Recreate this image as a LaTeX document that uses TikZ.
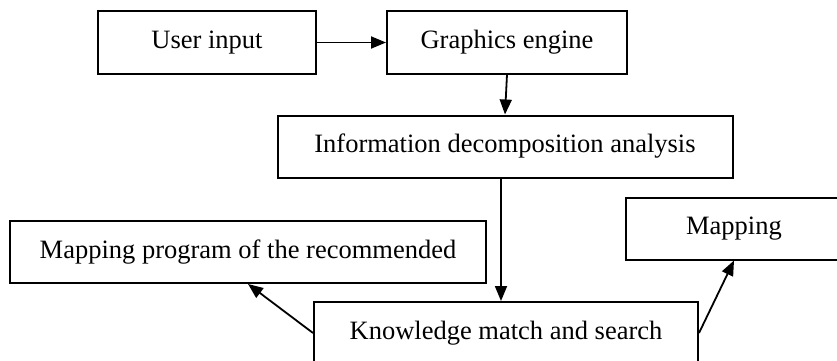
\documentclass[tikz,border=0pt]{standalone}
\usepackage{fontspec}
\setmainfont{Liberation Serif}
\usetikzlibrary{arrows.meta}

\begin{document}
\begin{tikzpicture}[
  x=1pt,y=-1pt,
  box/.style={rectangle,draw,line width=2pt,inner sep=0pt,minimum height=62pt,font=\fontsize{26.5}{30}\selectfont},
  arrow/.style={-{Triangle[length=15pt,width=12pt]},line width=1.8pt}
]
  \clip (0,0) rectangle (837,361);

  % Boxes
  \node[box,minimum width=218pt] (user) at (207,42.5) {User input};
  \node[box,minimum width=240pt] (engine) at (507,42.5) {Graphics engine};
  \node[box,minimum width=455pt] (info) at (505,146.5) {Information decomposition analysis};
  \node[box,minimum width=476pt] (prog) at (248,252) {Mapping program of the recommended};
  \node[box,minimum width=216pt] (mapping) at (734,228.5) {Mapping};
  \node[box,minimum width=384pt] (know) at (506,333) {Knowledge match and search};

  % Arrows
  \draw[arrow] (user) -- (engine);
  \draw[arrow] (engine.south) -- (info.north);
  \draw[arrow] ([xshift=-4pt]info.south) -- ([xshift=-5pt]know.north);
  \draw[arrow] (know.west) -- (prog.south);
  \draw[arrow] (know.east) -- (mapping.south);
\end{tikzpicture}
\end{document}
